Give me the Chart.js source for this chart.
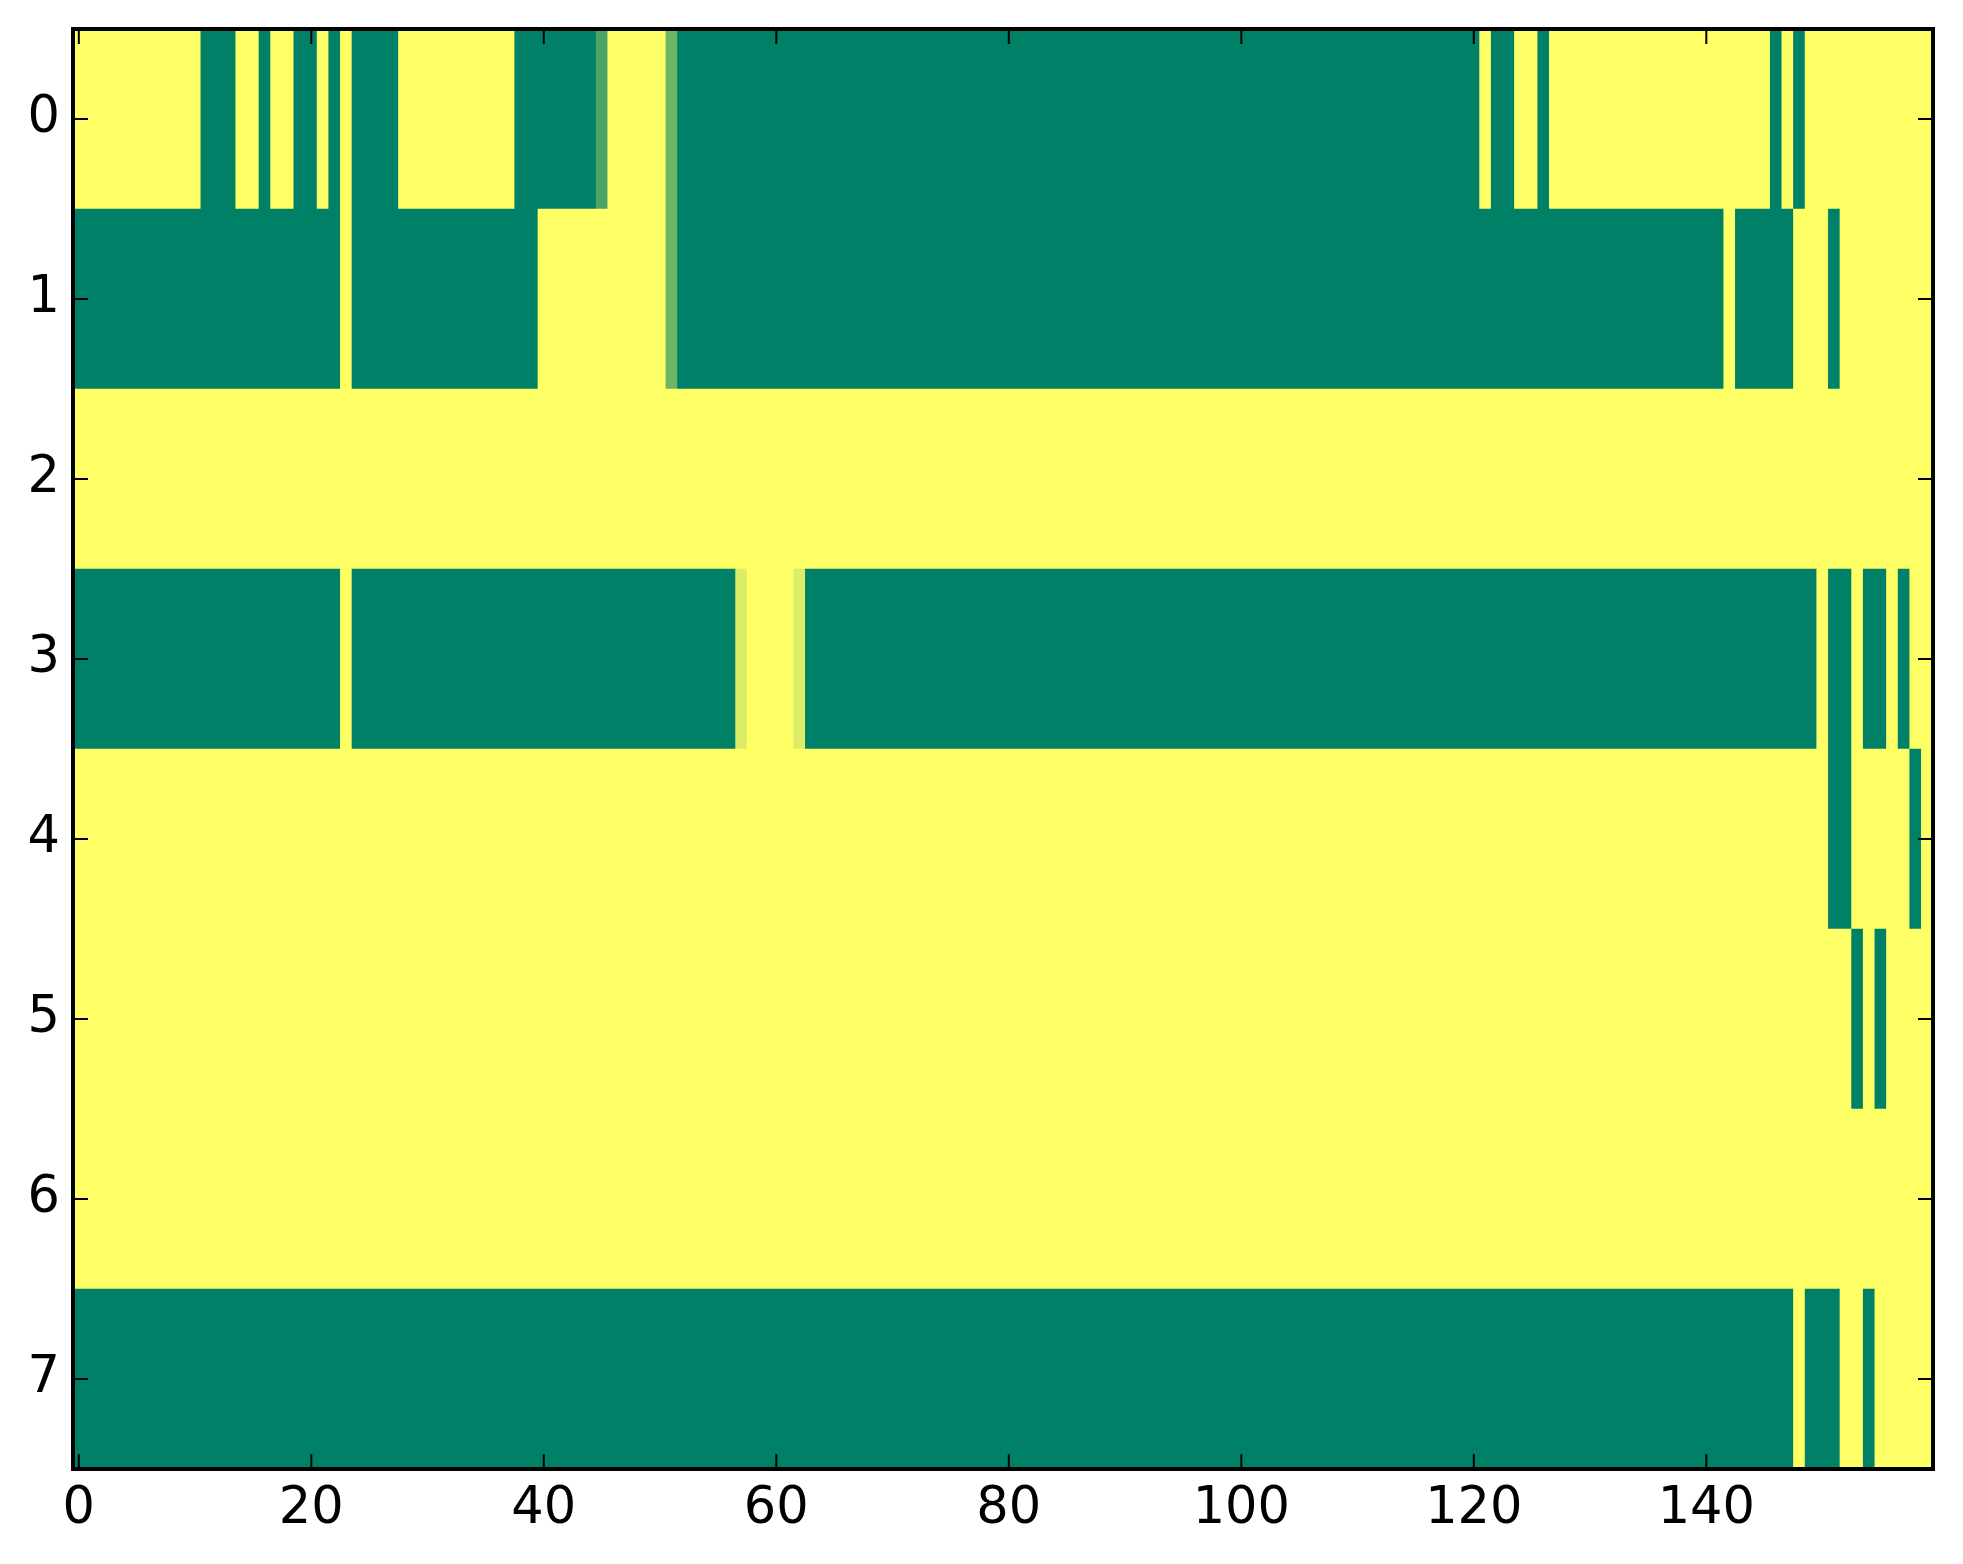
<!DOCTYPE html>
<html lang="en">
  <head>
    <meta charset="UTF-8" />
    <title>Heatmap - Chart.js</title>
    <script src="https://cdn.jsdelivr.net/npm/chart.js"></script>
    <style>
      body {
        margin: 0;
        padding: 0;
        background: #ffffff;
      }
      .container {
        width: 1963px;
        height: 1564px;
        position: relative;
      }
    </style>
  </head>
  <body>
    <div class="container">
      <canvas id="myChart"></canvas>
    </div>

    <script>
      // row labels (y axis) and x tick values
      const rowLabels = ["0", "1", "2", "3", "4", "5", "6", "7"];
      const xTicks = [0, 20, 40, 60, 80, 100, 120, 140];
      const nCols = 160;

      // each row as runs of [value, number of columns], left to right
      const row0 = [
        [1, 11], [0, 3], [1, 2], [0, 1], [1, 2], [0, 2], [1, 1], [0, 1],
        [1, 1], [0, 4], [1, 10], [0, 7], [0.286, 1], [1, 5], [0.429, 1],
        [0, 69], [1, 1], [0, 2], [1, 2], [0, 1], [1, 19], [0, 1], [1, 1],
        [0, 1], [1, 11],
      ];
      const row1 = [
        [0, 23], [1, 1], [0, 16], [1, 11], [0.429, 1], [0, 90], [1, 1],
        [0, 5], [1, 3], [0, 1], [1, 8],
      ];
      const row2 = [[1, 160]];
      const row3 = [
        [0, 23], [1, 1], [0, 33], [0.857, 1], [1, 4], [0.857, 1], [0, 87],
        [1, 1], [0, 2], [1, 1], [0, 2], [1, 1], [0, 1], [1, 2],
      ];
      const row4 = [[1, 151], [0, 2], [1, 5], [0, 1], [1, 1]];
      const row5 = [[1, 153], [0, 1], [1, 1], [0, 1], [1, 4]];
      const row6 = [[1, 160]];
      const row7 = [[0, 148], [1, 1], [0, 3], [1, 2], [0, 1], [1, 5]];

      const rows = [row0, row1, row2, row3, row4, row5, row6, row7];

      // matplotlib "summer" colormap
      function summer(v) {
        const r = Math.round(v * 255);
        const g = Math.round((0.5 + v / 2) * 255);
        const b = Math.round(0.4 * 255);
        return `rgb(${r}, ${g}, ${b})`;
      }

      const cells = [];
      const colors = [];
      rows.forEach((runs, r) => {
        let col = 0;
        runs.forEach(([value, len]) => {
          cells.push({ x: [col - 0.5, col + len - 0.5], y: rowLabels[r] });
          colors.push(summer(value));
          col += len;
        });
      });

      const tickFont = { family: "DejaVu Sans", size: 51 };

      // frame and inward tick marks on all four sides
      const framePlugin = {
        id: "frame",
        afterDraw(chart) {
          const { ctx, chartArea, scales } = chart;
          const { left, right, top, bottom } = chartArea;
          const len = 15;
          ctx.save();
          ctx.strokeStyle = "#000";
          ctx.lineWidth = 2;
          ctx.beginPath();
          xTicks.forEach((v) => {
            const x = scales.x.getPixelForValue(v);
            ctx.moveTo(x, bottom);
            ctx.lineTo(x, bottom - len);
            ctx.moveTo(x, top);
            ctx.lineTo(x, top + len);
          });
          rowLabels.forEach((lab, i) => {
            const y = scales.y.getPixelForValue(i);
            ctx.moveTo(left, y);
            ctx.lineTo(left + len, y);
            ctx.moveTo(right, y);
            ctx.lineTo(right - len, y);
          });
          ctx.stroke();
          ctx.lineWidth = 4;
          ctx.strokeRect(left, top, right - left, bottom - top);
          ctx.restore();
        },
      };

      const ctx = document.getElementById("myChart").getContext("2d");
      const myChart = new Chart(ctx, {
        type: "bar",
        data: {
          labels: rowLabels,
          datasets: [
            {
              data: cells,
              backgroundColor: colors,
              borderWidth: 0,
              barPercentage: 1,
              categoryPercentage: 1,
            },
          ],
        },
        options: {
          indexAxis: "y",
          responsive: true,
          maintainAspectRatio: false,
          animation: false,
          layout: { padding: { left: 0, top: 29, right: 30, bottom: 0 } },
          plugins: {
            legend: { display: false },
            tooltip: { enabled: false },
          },
          scales: {
            x: {
              type: "linear",
              position: "bottom",
              min: -0.5,
              max: nCols - 0.5,
              grid: { display: false, drawTicks: false },
              border: { display: false },
              ticks: {
                font: tickFont,
                color: "#000",
                padding: 10,
                maxRotation: 0,
                autoSkip: false,
              },
              afterBuildTicks: (s) => {
                s.ticks = xTicks.map((v) => ({ value: v }));
              },
              afterFit: (s) => {
                s.height = 95;
                s.paddingLeft = 0;
                s.paddingRight = 0;
              },
            },
            y: {
              type: "category",
              offset: true,
              grid: { display: false, drawTicks: false },
              border: { display: false },
              ticks: {
                font: tickFont,
                color: "#000",
                padding: 13,
              },
              afterFit: (s) => {
                s.width = 73;
                s.paddingTop = 0;
                s.paddingBottom = 0;
              },
            },
          },
        },
        plugins: [framePlugin],
      });
    </script>
  </body>
</html>
